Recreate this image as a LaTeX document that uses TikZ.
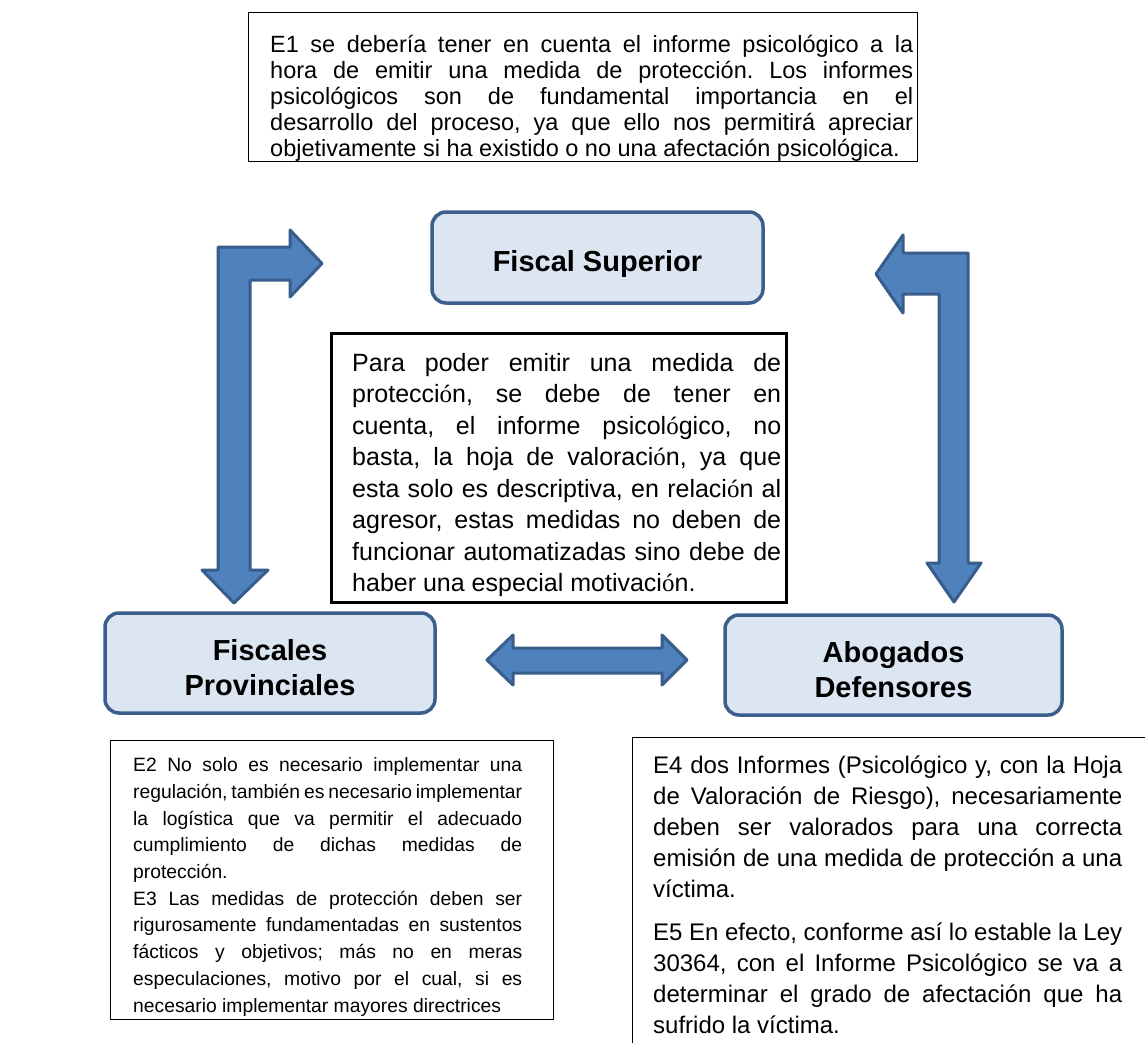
\documentclass[tikz,border=0pt]{standalone}
\usepackage{fontspec}
\setmainfont{Liberation Sans}
\newfontfamily\serifacc{Liberation Serif}
\newcommand{\oacc}{{\serifacc ó}}
\newcommand{\jl}[2]{\makebox[#1][s]{#2}}
\definecolor{boxfill}{HTML}{DCE6F2}
\definecolor{boxline}{HTML}{3A5F8C}
\definecolor{arrowfill}{HTML}{4F81BD}
\definecolor{arrowline}{HTML}{385D8A}
\frenchspacing
\begin{document}
\begin{tikzpicture}[x=1pt,y=-1pt,
  rolebox/.style={draw=boxline, line width=3.5pt, fill=boxfill, rounded corners=14pt, inner sep=0pt},
  rolelabel/.style={align=center, font=\fontsize{29}{35}\selectfont\bfseries, inner sep=0pt},
  blockarrow/.style={draw=arrowline, fill=arrowfill, line width=3pt, line join=round},
  notebox/.style={draw=black, line width=1.3pt, anchor=north west, inner sep=0pt},
  notetext/.style={anchor=north west, inner sep=0pt, align=left}
]
\useasboundingbox (0,0) rectangle (1145,1043);
\clip (0,0) rectangle (1145,1043);
\fill[white] (0,0) rectangle (1145,1043);

% note boxes
\node[notebox, minimum width=669, minimum height=149] (e1box) at (248,12) {};
\node[notebox, line width=2.5pt, minimum width=455, minimum height=269] (cbox) at (330,332) {};
\node[notebox, minimum width=443, minimum height=279] (e23box) at (110,740) {};
\node[notebox, minimum width=560, minimum height=340] (e45box) at (632,737) {};

% E1 text
\node[notetext, font=\fontsize{23.5}{26}\selectfont] (e1) at (270,34.5) {%
\jl{643pt}{E1 se debería tener en cuenta el informe psicológico a la}\\
\jl{643pt}{hora de emitir una medida de protección. Los informes}\\
\jl{643pt}{psicológicos son de fundamental importancia en el}\\
\jl{643pt}{desarrollo del proceso, ya que ello nos permitirá apreciar}\\
objetivamente si ha existido o no una afectación psicológica.};

% centre text
\node[notetext, font=\fontsize{25}{31.5}\selectfont] (ctext) at (352,353) {%
\jl{429pt}{Para poder emitir una medida de}\\
\jl{429pt}{protecci\oacc n, se debe de tener en}\\
\jl{429pt}{cuenta, el informe psicol\oacc gico, no}\\
\jl{429pt}{basta, la hoja de valoraci\oacc n, ya que}\\
\jl{429pt}{esta solo es descriptiva, en relaci\oacc n al}\\
\jl{429pt}{agresor, estas medidas no deben de}\\
\jl{429pt}{funcionar automatizadas sino debe de}\\
haber una especial motivaci\oacc n.};

% E2/E3 text
\node[notetext, font=\fontsize{19.3}{26.7}\selectfont] (e23) at (133,757.6) {%
\jl{389pt}{E2 No solo es necesario implementar una}\\
\jl{389pt}{regulación, también es necesario implementar}\\
\jl{389pt}{la logística que va permitir el adecuado}\\
\jl{389pt}{cumplimiento de dichas medidas de}\\
protección.\\
\jl{389pt}{E3 Las medidas de protección deben ser}\\
\jl{389pt}{rigurosamente fundamentadas en sustentos}\\
\jl{389pt}{fácticos y objetivos; más no en meras}\\
\jl{389pt}{especulaciones, motivo por el cual, si es}\\
necesario implementar mayores directrices};

% E4/E5 text
\node[notetext, font=\fontsize{24}{31}\selectfont] (e45) at (653,755.5) {%
\jl{469pt}{E4 dos Informes (Psicológico y, con la Hoja}\\
\jl{469pt}{de Valoración de Riesgo), necesariamente}\\
\jl{469pt}{deben ser valorados para una correcta}\\
\jl{469pt}{emisión de una medida de protección a una}\\
víctima.\\[12pt]
\jl{469pt}{E5 En efecto, conforme así lo estable la Ley}\\
\jl{469pt}{30364, con el Informe Psicológico se va a}\\
\jl{469pt}{determinar el grado de afectación que ha}\\
sufrido la víctima.};

% block arrows
\draw[blockarrow] (218,247) -- (290,247) -- (290,230) -- (322,263.5) -- (290,297) -- (290,280)
  -- (250,280) -- (250,570) -- (268,570) -- (234,603) -- (202,570) -- (218,570) -- cycle;
\draw[blockarrow] (968,253) -- (903,253) -- (903,235) -- (876,274) -- (903,313) -- (903,294)
  -- (939,294) -- (939,563) -- (927,563) -- (954,602) -- (981,563) -- (968,563) -- cycle;
\draw[blockarrow] (487,660) -- (513,635) -- (513,648) -- (662,648) -- (662,635) -- (687,660)
  -- (662,685) -- (662,673) -- (513,673) -- (513,685) -- cycle;

% role boxes
\node[rolebox, minimum width=331, minimum height=91] (fs) at (597.5,257.5) {};
\node[rolelabel] (fslabel) at ([yshift=-7pt]fs.center) {Fiscal Superior};
\node[rolebox, minimum width=330, minimum height=100] (fp) at (270,663) {};
\node[rolelabel] (fplabel) at ([yshift=-5pt]fp.center) {Fiscales\\Provinciales};
\node[rolebox, minimum width=337, minimum height=100] (ad) at (893.5,665) {};
\node[rolelabel] (adlabel) at ([yshift=-5pt]ad.center) {Abogados\\Defensores};
\end{tikzpicture}
\end{document}
